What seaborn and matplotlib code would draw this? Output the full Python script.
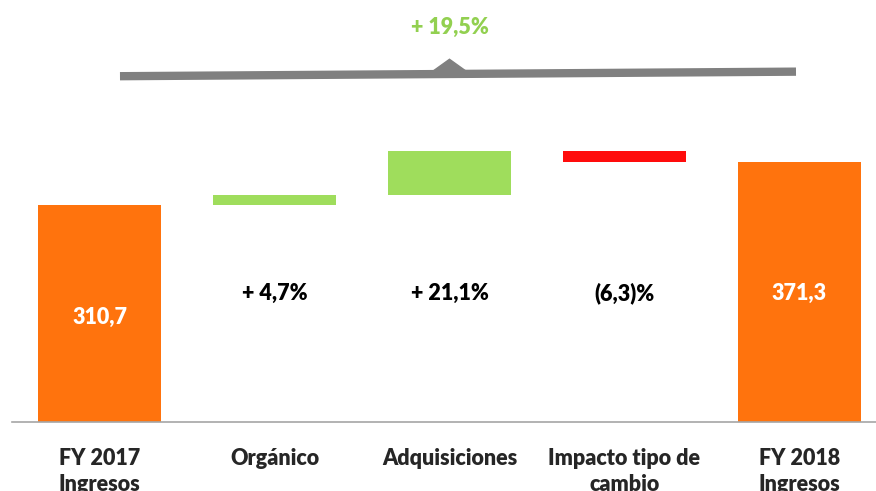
import numpy as np
import pandas as pd
import matplotlib
matplotlib.use("Agg")
import matplotlib.pyplot as plt
import seaborn as sns
from matplotlib.patches import Polygon

# data
categories = ["FY 2017\nIngresos", "Orgánico", "Adquisiciones", "Impacto tipo de\ncambio", "FY 2018\nIngresos"]
start_val = 310.7
end_val = 371.3
deltas = [13.6, 62.8, -15.8]
inner_labels = ["310,7", "+ 4,7%", "+ 21,1%", "(6,3)%", "371,3"]
total_label = "+ 19,5%"

orange = "#FF730D"
green = "#9FDD5C"
red = "#FF0C0C"
colors = [orange, green, green, red, orange]

# waterfall bottoms / heights
levels = np.concatenate([[start_val], start_val + np.cumsum(deltas)])
bottoms = [0.0]
heights = [start_val]
for i, d in enumerate(deltas):
    lo = min(levels[i], levels[i + 1])
    bottoms.append(lo)
    heights.append(abs(d))
bottoms.append(0.0)
heights.append(end_val)

df = pd.DataFrame({"cat": categories, "height": heights, "bottom": bottoms})

sns.set_style("white")
plt.rcParams["font.family"] = ["Lato", "DejaVu Sans"]

fig = plt.figure(figsize=(8.76, 4.91), dpi=100)
ax = fig.add_axes([12 / 876, 69 / 491, 875 / 876, 280 / 491])

sns.barplot(data=df, x="cat", y="height", bottom=df["bottom"].values, width=0.70,
            color=orange, ax=ax, linewidth=0)
for p, c in zip(ax.patches, colors):
    p.set_facecolor(c)

ax.set_xlim(-0.5, 4.5)
ax.set_ylim(0, 400)
ax.set_xlabel("")
ax.set_ylabel("")
ax.set_yticks([])
sns.despine(ax=ax, left=True)
ax.spines["bottom"].set_color("#A6A6A6")
ax.spines["bottom"].set_linewidth(1.2)

# category boundary ticks
ax.set_xticks(range(len(categories)))
ax.set_xticks(np.arange(-0.5, 5, 1.0), minor=True)
ax.tick_params(axis="x", which="minor", length=6, width=1.2, color="#A6A6A6", direction="out")
ax.tick_params(axis="x", which="major", length=0, pad=19)
ax.set_xticklabels(categories, fontsize=15.5, fontweight="heavy", linespacing=1.3)

# labels inside the chart
lab_kw = dict(ha="center", va="center", fontsize=15.5, fontweight="heavy")
ax.text(0, 150, inner_labels[0], color="white", **lab_kw)
for i in (1, 2, 3):
    ax.text(i, 184, inner_labels[i], color="black", **lab_kw)
ax.text(4, 184, inner_labels[4], color="white", **lab_kw)

# total growth bracket
x_l, x_r = 0.117, 3.98
y_l, y_r = 494.0, 500.5
ax.plot([x_l, x_r], [y_l, y_r], color="#808080", lw=6, solid_capstyle="butt", clip_on=False)
x_mid = 2.0
y_mid = y_l + (y_r - y_l) * (x_mid - x_l) / (x_r - x_l)
tri = Polygon([[x_mid - 0.095, y_mid + 4], [x_mid + 0.095, y_mid + 4], [x_mid, y_mid + 21]],
              closed=True, color="#808080", clip_on=False)
ax.add_patch(tri)
ax.text(x_mid, 563, total_label, ha="center", va="center", color="#92D050", fontsize=15.5,
        fontweight="heavy", clip_on=False)

fig.savefig("out.png", dpi=100)
